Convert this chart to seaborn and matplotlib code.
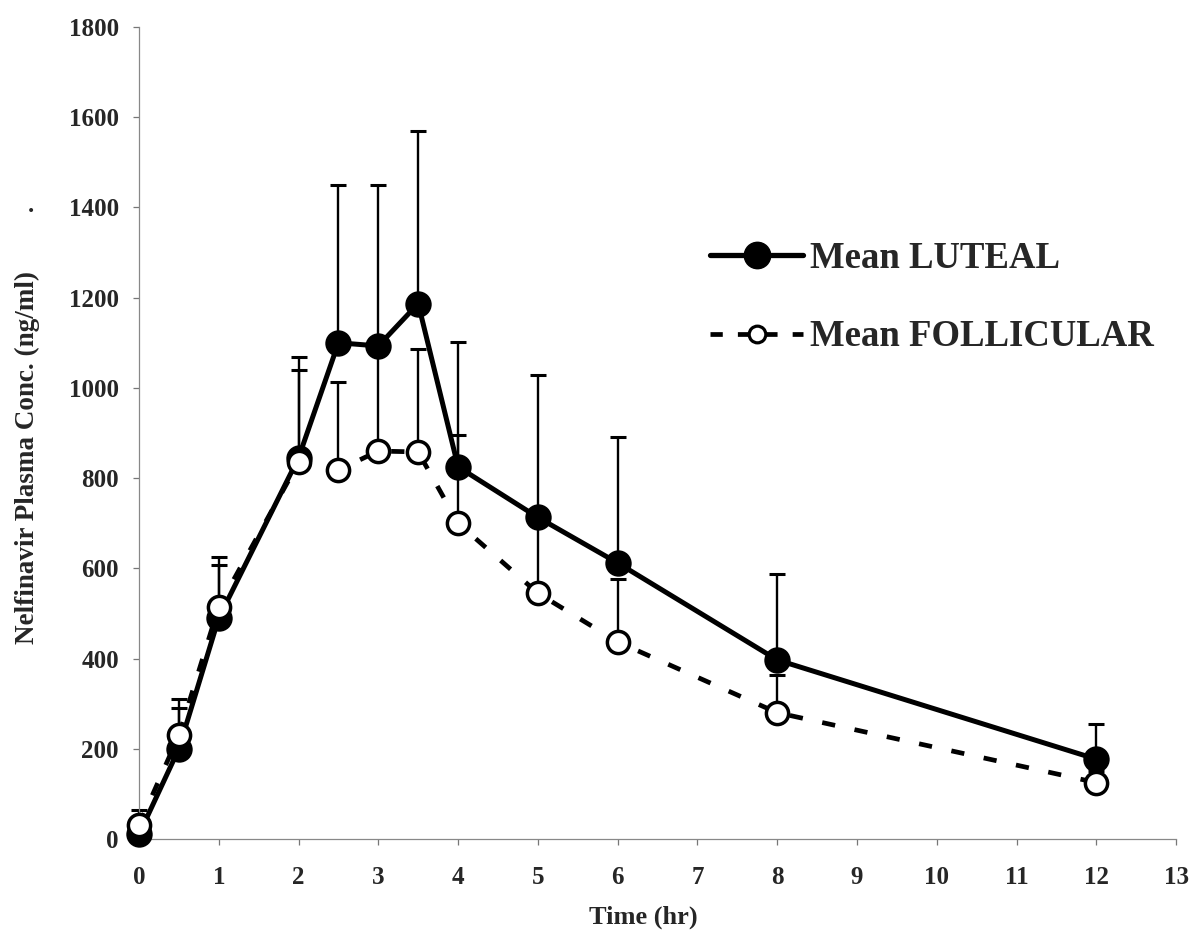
import numpy as np
import pandas as pd
import matplotlib
matplotlib.use("Agg")
import matplotlib.pyplot as plt
from matplotlib.lines import Line2D
import seaborn as sns

# Sampling times (hr)
time_hr = [0, 0.5, 1, 2, 2.5, 3, 3.5, 4, 5, 6, 8, 12]

# Mean nelfinavir plasma concentration (ng/ml) and mean + SD
luteal_mean = [10, 200, 490, 845, 1100, 1093, 1187, 825, 713, 612, 397, 177]
luteal_upper = [64, 290, 607, 1069, 1450, 1450, 1570, 1102, 1029, 892, 588, 255]
follicular_mean = [30, 230, 515, 835, 818, 860, 858, 700, 545, 437, 280, 125]
follicular_upper = [45, 310, 625, 1040, 1013, 1090, 1087, 896, 705, 576, 363, 150]

x_ticks = list(range(0, 14))
y_ticks = list(range(0, 2000, 200))

sns.set_theme(style="ticks")
plt.rcParams["font.family"] = ["Liberation Serif", "DejaVu Serif"]
plt.rcParams["font.weight"] = "bold"

fig = plt.figure(figsize=(11.94, 9.32), dpi=100)
ax = fig.add_axes([0.1164, 0.0998, 0.985 - 0.1164, 0.971 - 0.0998])

df_l = pd.DataFrame({"t": time_hr, "c": luteal_mean})
df_f = pd.DataFrame({"t": time_hr, "c": follicular_mean})

# Upper-only SD bars
for mean, upper in ((luteal_mean, luteal_upper), (follicular_mean, follicular_upper)):
    m = np.array(mean, dtype=float)
    u = np.array(upper, dtype=float)
    eb = ax.errorbar(time_hr, m, yerr=[np.zeros_like(m), u - m], fmt="none",
                     ecolor="black", elinewidth=1.7, capsize=5.8, capthick=2.2,
                     zorder=2)
    for art in eb.lines[1] + eb.lines[2]:
        art.set_clip_on(False)

sns.lineplot(data=df_l, x="t", y="c", ax=ax, color="black", linewidth=3.6,
             marker="o", markersize=17.5, markerfacecolor="black",
             markeredgecolor="black", markeredgewidth=1.5, clip_on=False,
             zorder=3)
sns.lineplot(data=df_f, x="t", y="c", ax=ax, color="black", linewidth=3.4,
             linestyle=(0, (2.8, 4.2)), dash_capstyle="butt",
             marker="o", markersize=16, markerfacecolor="white",
             markeredgecolor="black", markeredgewidth=2.5, clip_on=False,
             zorder=4)

ax.set_xlim(0, 13)
ax.set_ylim(0, 1800)
ax.set_xticks(x_ticks)
ax.set_yticks(y_ticks)
ax.set_xticklabels([str(v) for v in x_ticks], fontsize=18, fontweight="bold")
ax.set_yticklabels([str(v) for v in y_ticks], fontsize=18, fontweight="bold")
ax.tick_params(axis="both", direction="out", length=4.5, width=0.9, color="#777777")
ax.tick_params(axis="x", pad=15)
ax.tick_params(axis="y", pad=10)
for side in ("top", "right"):
    ax.spines[side].set_visible(False)
for side in ("left", "bottom"):
    ax.spines[side].set_color("#888888")
    ax.spines[side].set_linewidth(0.9)

ax.set_xlabel("")
ax.set_ylabel("")
fig.text(643 / 1194, 1 - 917 / 932, "Time (hr)", ha="center", va="center",
         fontsize=19, fontweight="bold")
fig.text(27 / 1194, 1 - 458 / 932, "Nelfinavir Plasma Conc. (ng/ml)",
         ha="center", va="center", rotation=90, fontsize=19.5, fontweight="bold")
fig.text(31 / 1194, 1 - 212 / 932, ".", ha="center", va="baseline",
         fontsize=18, fontweight="bold")

handles = [
    Line2D([], [], color="black", linewidth=3.8, marker="o", markersize=19,
           markerfacecolor="black", markeredgecolor="black"),
    Line2D([], [], color="black", linewidth=3.4, linestyle=(0, (2.6, 3.2)),
           marker="o", markersize=12, markerfacecolor="white",
           markeredgecolor="black", markeredgewidth=2.3),
]
ax.legend(handles, ["Mean LUTEAL", "Mean FOLLICULAR"], loc="upper left",
          bbox_to_anchor=(710 / 1194, 1 - 241 / 932),
          bbox_transform=fig.transFigure, frameon=False, borderpad=0,
          borderaxespad=0, handlelength=2.53, handletextpad=0.19,
          labelspacing=1.18, prop={"size": 26.5, "weight": "bold"})

fig.savefig("out.png", dpi=100, facecolor="white")
